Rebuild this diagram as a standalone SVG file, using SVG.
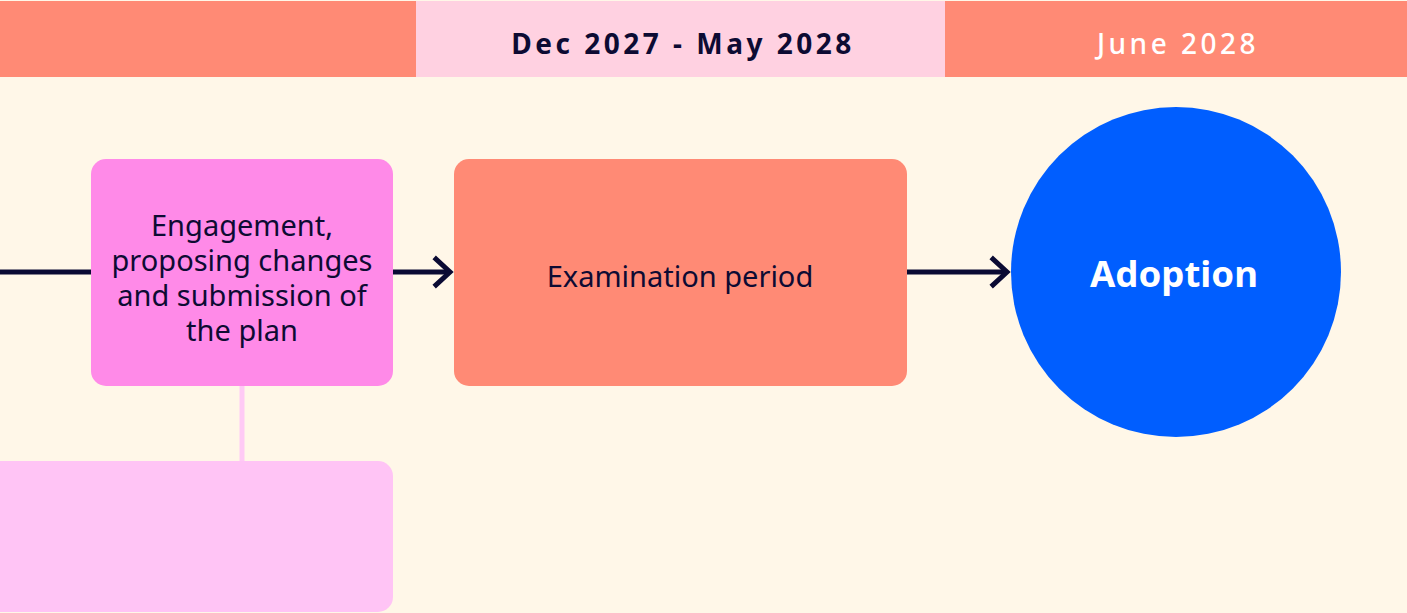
<svg xmlns="http://www.w3.org/2000/svg" width="1407" height="613" viewBox="0 0 1407 613">
<style>
.hdr{font-family:"Noto Sans","Open Sans",sans-serif;font-size:28px;letter-spacing:3.5px;text-anchor:middle}
.lbl{font-family:"Noto Sans","Open Sans",sans-serif;font-size:29px;fill:#0d0b33;text-anchor:middle}
.conn{stroke:#0a0a33;stroke-width:5;fill:none}
.head{stroke:#0a0a33;stroke-width:5;fill:none;stroke-linecap:square}
</style>
<rect x="0" y="0" width="1407" height="613" fill="#fff7e8"/>
<g id="header">
<rect x="0" y="1" width="416" height="76" fill="#ff8a75"/>
<rect x="416" y="1" width="529" height="76" fill="#ffd1e1"/>
<rect x="945" y="1" width="462" height="76" fill="#ff8a75"/>
<text class="hdr" x="683" y="54" font-weight="bold" fill="#0d0b33">Dec 2027 - May 2028</text>
<text class="hdr" x="1178" y="54" font-weight="500" fill="#ffffff">June 2028</text>
</g>
<g id="connectors">
<line class="conn" x1="0" y1="272" x2="91" y2="272"/>
<line class="conn" x1="393" y1="272" x2="450" y2="272"/>
<polyline class="head" points="436,259 450,272 436,285"/>
<line class="conn" x1="907" y1="272" x2="1007" y2="272"/>
<polyline class="head" points="993,259 1007,272 993,285"/>
<line x1="242" y1="386" x2="242" y2="462" stroke="#ffcaf5" stroke-width="5"/>
</g>
<g id="node-lower">
<rect x="-20" y="461" width="413" height="151" rx="15" fill="#ffc4f5"/>
</g>
<g id="node-engagement">
<rect x="91" y="159" width="302" height="227" rx="15" fill="#ff8ae8"/>
<text class="lbl" x="242" y="236">Engagement,<tspan x="242" dy="35">proposing changes</tspan><tspan x="242" dy="35">and submission of</tspan><tspan x="242" dy="35">the plan</tspan></text>
</g>
<g id="node-examination">
<rect x="454" y="159" width="453" height="227" rx="15" fill="#ff8a75"/>
<text class="lbl" x="680" y="287">Examination period</text>
</g>
<g id="node-adoption">
<circle cx="1176" cy="272" r="165" fill="#005eff"/>
<text x="1174" y="287" font-family="Noto Sans,Open Sans,sans-serif" font-size="36.6" font-weight="bold" fill="#ffffff" text-anchor="middle">Adoption</text>
</g>
</svg>
